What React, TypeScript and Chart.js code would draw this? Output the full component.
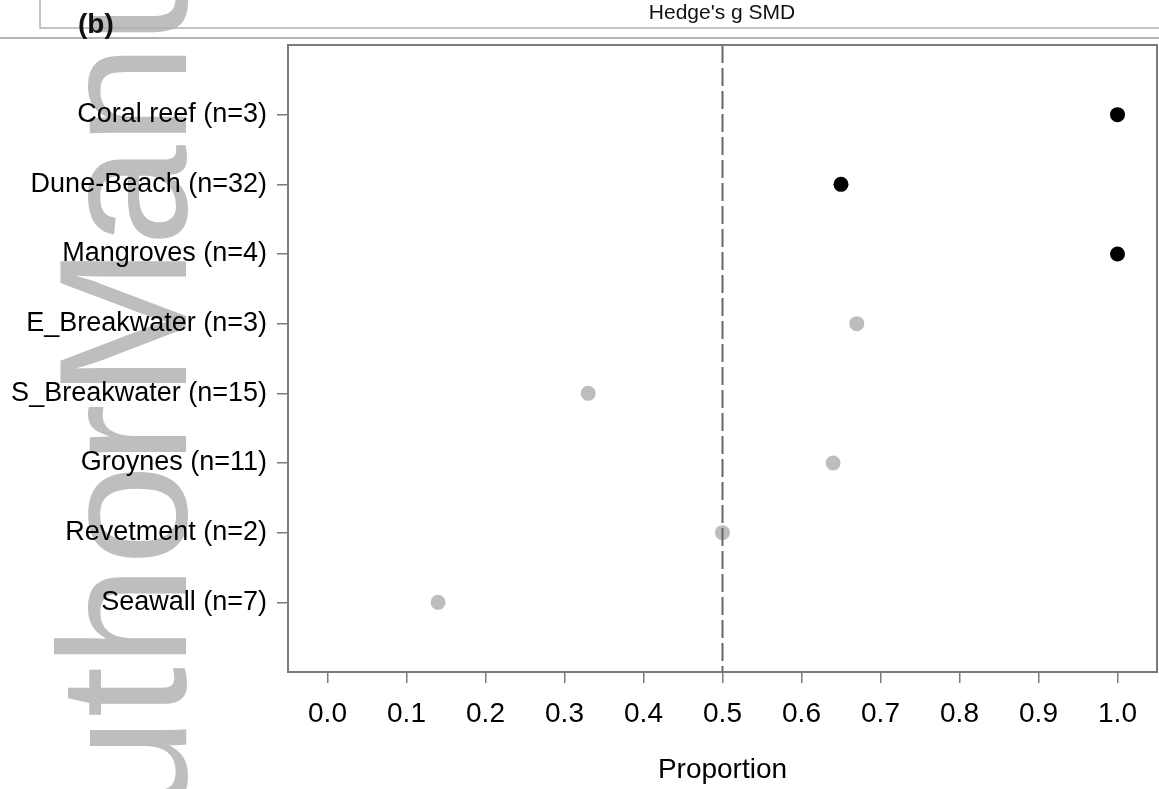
import React, { useEffect, useRef } from "react";
import { Chart, registerables } from "chart.js";

Chart.register(...registerables);

const categories = [
  "Seawall (n=7)",
  "Revetment (n=2)",
  "Groynes (n=11)",
  "S_Breakwater (n=15)",
  "E_Breakwater (n=3)",
  "Mangroves (n=4)",
  "Dune-Beach (n=32)",
  "Coral reef (n=3)",
];
const proportions = [0.14, 0.5, 0.64, 0.33, 0.67, 1.0, 0.65, 1.0];
const groups = ["grey", "grey", "grey", "grey", "grey", "black", "black", "black"];
const xTicks = [0, 0.1, 0.2, 0.3, 0.4, 0.5, 0.6, 0.7, 0.8, 0.9, 1.0];
const referenceLine = 0.5;
const watermarkWords = ["Author", "Manuscript"];

const FONT = "'Liberation Sans', Arial, Helvetica, sans-serif";

export default function App() {
  const ref = useRef<HTMLCanvasElement | null>(null);

  useEffect(() => {
    const canvas = ref.current;
    if (!canvas) return;

    const watermark = {
      id: "watermark",
      beforeDraw(chart: any) {
        const ctx = chart.ctx;
        ctx.save();
        ctx.fillStyle = "#BEBEBE";
        ctx.font = `182px ${FONT}`;
        ctx.textBaseline = "alphabetic";
        ctx.textAlign = "left";
        const starts = [940, 398];
        watermarkWords.forEach((w, i) => {
          ctx.save();
          ctx.translate(186, starts[i]);
          ctx.rotate(-Math.PI / 2);
          ctx.fillText(w, 0, 0);
          ctx.restore();
        });
        ctx.restore();
      },
    };

    const decorations = {
      id: "decorations",
      afterDatasetsDraw(chart: any) {
        const { ctx, chartArea, scales } = chart;
        const x = scales.x.getPixelForValue(referenceLine);
        ctx.save();
        ctx.strokeStyle = "#666666";
        ctx.lineWidth = 2;
        ctx.setLineDash([18, 5]);
        ctx.beginPath();
        ctx.moveTo(x, chartArea.top);
        ctx.lineTo(x, chartArea.bottom);
        ctx.stroke();
        ctx.restore();
      },
      afterDraw(chart: any) {
        const { ctx, chartArea } = chart;
        ctx.save();
        ctx.strokeStyle = "#7a7a7a";
        ctx.lineWidth = 2;
        ctx.strokeRect(chartArea.left, chartArea.top, chartArea.right - chartArea.left, chartArea.bottom - chartArea.top);
        ctx.strokeStyle = "#b0b0b0";
        ctx.lineWidth = 1.5;
        ctx.beginPath();
        ctx.moveTo(40, 0);
        ctx.lineTo(40, 28);
        ctx.lineTo(1159, 28);
        ctx.stroke();
        ctx.strokeStyle = "#9a9a9a";
        ctx.beginPath();
        ctx.moveTo(0, 38);
        ctx.lineTo(1159, 38);
        ctx.stroke();
        ctx.fillStyle = "#111";
        ctx.textBaseline = "alphabetic";
        ctx.textAlign = "center";
        ctx.font = `21px ${FONT}`;
        ctx.fillText("Hedge's g SMD", 722, 19);
        ctx.textAlign = "left";
        ctx.font = `bold 28px ${FONT}`;
        ctx.fillText("(b)", 78, 33);
        ctx.restore();
      },
    };

    const points = proportions.map((v, i) => ({ x: v, y: i + 1 }));
    const colors = groups.map((g) => (g === "black" ? "#000000" : "#BDBDBD"));

    const chart = new Chart(canvas, {
      type: "scatter",
      data: {
        datasets: [
          {
            data: points,
            pointBackgroundColor: colors,
            pointBorderWidth: 0,
            pointRadius: 7.5,
            pointHoverRadius: 7.5,
          },
        ],
      },
      options: {
        animation: false,
        responsive: false,
        devicePixelRatio: 1,
        layout: { autoPadding: false, padding: { top: 45, right: 2, left: 0, bottom: 0 } },
        plugins: { legend: { display: false }, tooltip: { enabled: false } },
        scales: {
          x: {
            type: "linear",
            min: -0.05,
            max: 1.05,
            afterBuildTicks: (s: any) => {
              s.ticks = xTicks.map((v) => ({ value: v }));
            },
            afterFit: (s: any) => {
              s.height = 117;
              s.paddingLeft = 0;
              s.paddingRight = 0;
            },
            grid: { drawOnChartArea: false, drawTicks: true, tickLength: 11, color: "#7a7a7a", lineWidth: 1.5 },
            border: { display: false },
            ticks: {
              autoSkip: false,
              maxRotation: 0,
              padding: 14,
              color: "#000",
              font: { family: FONT, size: 28 },
              callback: (v: any) => Number(v).toFixed(1),
            },
            title: {
              display: true,
              text: "Proportion",
              color: "#000",
              font: { family: FONT, size: 28 },
              padding: { top: 0, bottom: 2 },
            },
          },
          y: {
            type: "linear",
            min: 0,
            max: 9,
            afterBuildTicks: (s: any) => {
              s.ticks = categories.map((_, i) => ({ value: i + 1 }));
            },
            afterFit: (s: any) => {
              s.width = 288;
              s.paddingTop = 0;
              s.paddingBottom = 0;
            },
            grid: { drawOnChartArea: false, drawTicks: true, tickLength: 11, color: "#7a7a7a", lineWidth: 1.5 },
            border: { display: false },
            ticks: {
              autoSkip: false,
              padding: 10,
              color: "#000",
              font: { family: FONT, size: 27 },
              callback: (v: any) => categories[Math.round(Number(v)) - 1] ?? "",
            },
          },
        },
      },
      plugins: [watermark, decorations],
    });

    return () => chart.destroy();
  }, []);

  return (
    <div style={{ position: "absolute", left: 0, top: 0, width: 1159, height: 789, background: "#fff" }}>
      <canvas ref={ref} width={1159} height={789} style={{ width: 1159, height: 789 }} />
    </div>
  );
}
